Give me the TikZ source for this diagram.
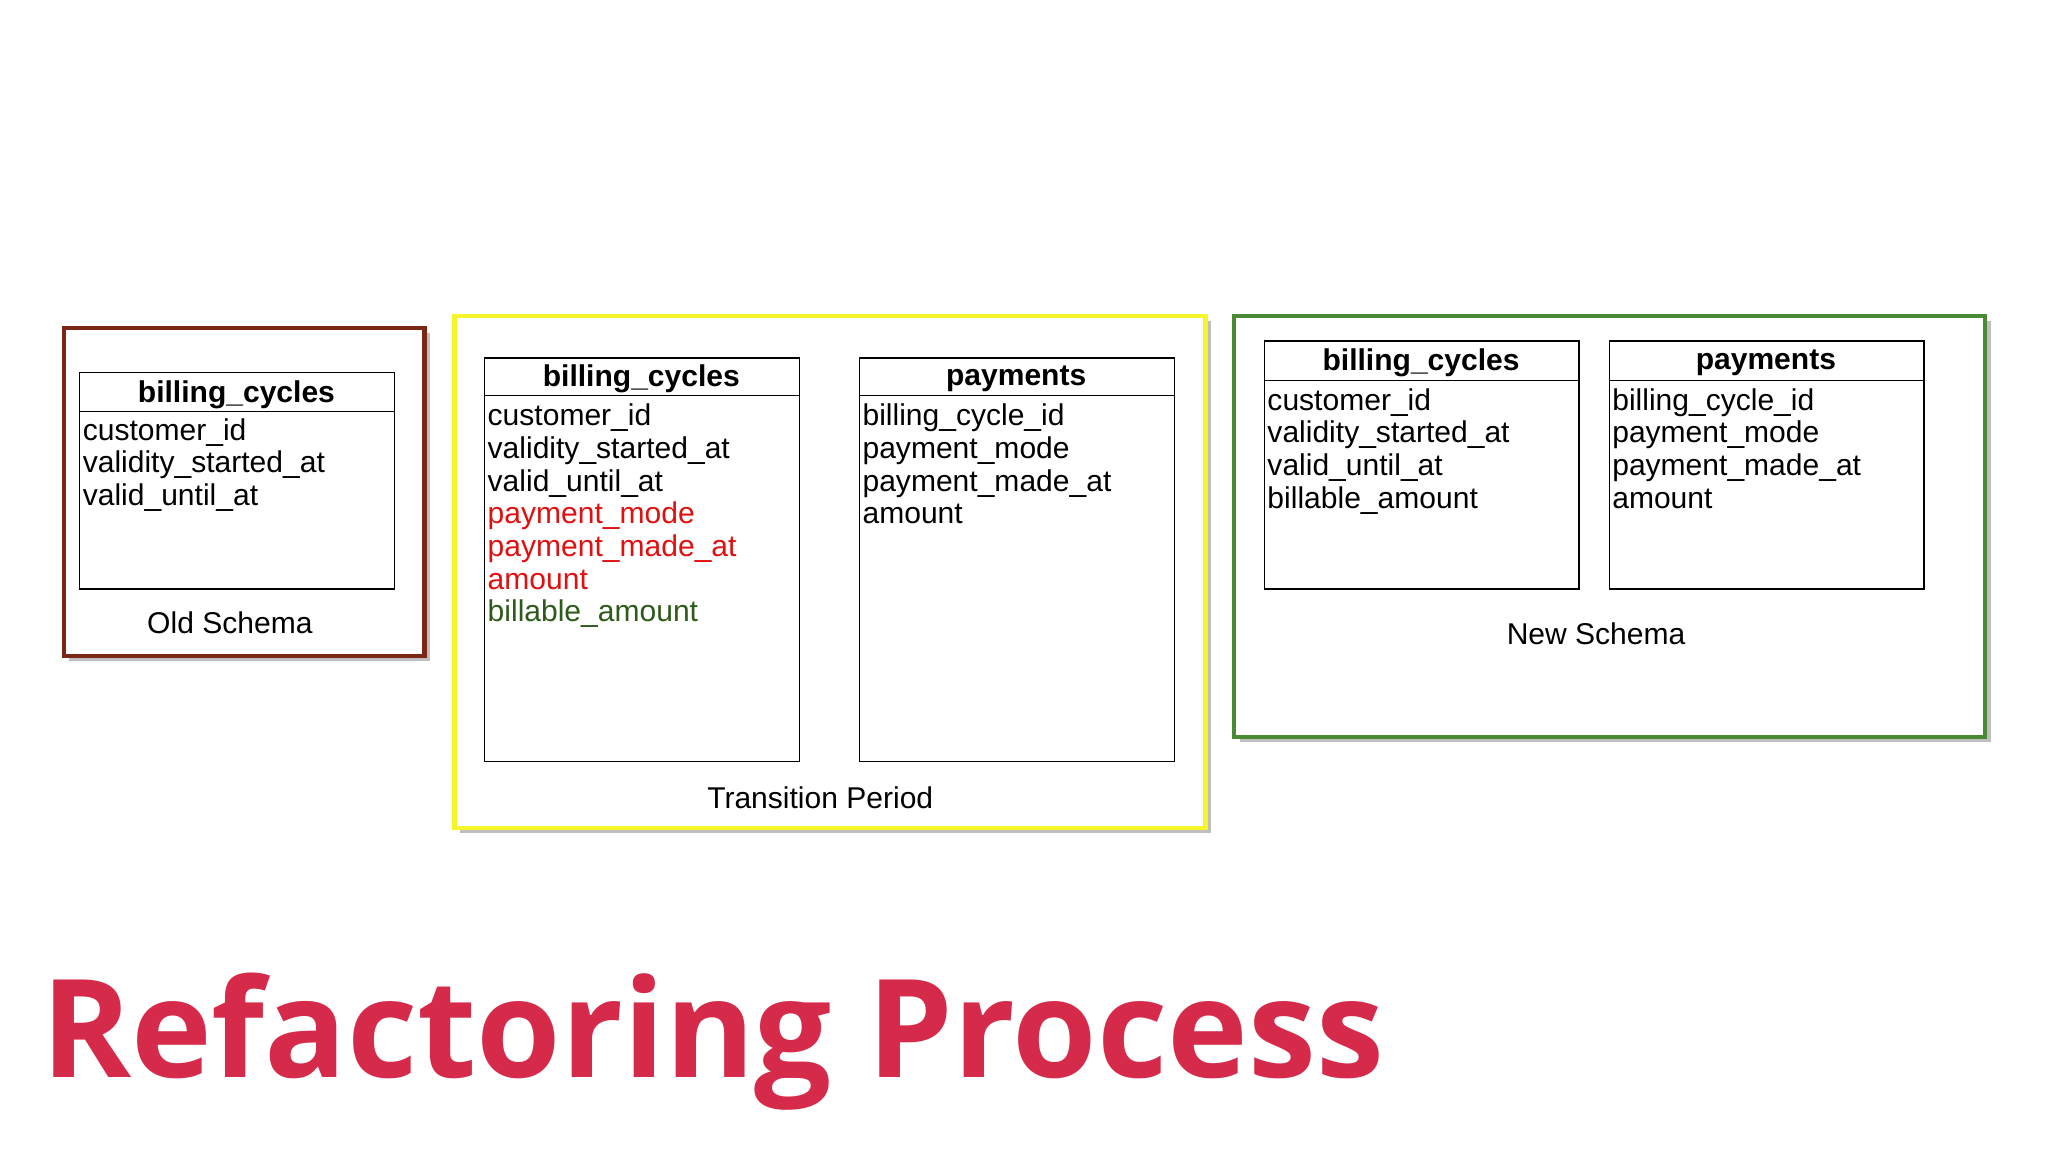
\documentclass[tikz,border=0pt]{standalone}
\usepackage{fontspec}
\setmainfont{Liberation Sans}
\newfontfamily\titlefont{Open Sans}
\begin{document}
\begin{tikzpicture}[x=0.5pt,y=-0.5pt,
  frame/.style={line width=1.6pt},
  tbl/.style={draw=black,line width=0.5pt,fill=white},
  hdr/.style={font=\fontsize{11.5}{12}\selectfont\bfseries,anchor=center},
  fld/.style={font=\fontsize{11.5}{12.5}\selectfont,anchor=north west,align=left,inner sep=0pt},
  lbl/.style={font=\fontsize{11.5}{12}\selectfont}]
\useasboundingbox (0,0) rectangle (1568,882);
\fill[white] (0,0) rectangle (1568,882);
\definecolor{oldc}{HTML}{7A2815}
\definecolor{ylw}{HTML}{F5F52A}
\definecolor{grn}{HTML}{4A8A34}
\definecolor{redf}{HTML}{E01010}
\definecolor{grnf}{HTML}{2E5A1A}
\definecolor{ttl}{HTML}{D62A4A}
% shadows
\fill[black!25] (53,255) rectangle (329,506);
\fill[black!25] (352,246) rectangle (927,638);
\fill[black!25] (949,246) rectangle (1524,568);
% frames
\draw[frame,draw=oldc,fill=white] (49,251) rectangle (325,502);
\draw[frame,draw=ylw,fill=white] (348,242) rectangle (923,634);
\draw[frame,draw=grn,fill=white] (945,242) rectangle (1520,564);
% Old schema
\draw[tbl] (61,285) rectangle (302,451); \draw (61,315) -- (302,315);
\node[hdr] (o1h) at (181,302) {billing\_cycles};
\node[fld] (o1f) at (63,320) {customer\_id\\validity\_started\_at\\valid\_until\_at};
\node[lbl] (olab) at (176,477) {Old Schema};
% Transition
\draw[tbl] (371,274) rectangle (612,583); \draw (371,303) -- (612,303);
\node[hdr] (t1h) at (491,290) {billing\_cycles};
\node[fld] (t1f) at (373,309) {customer\_id\\validity\_started\_at\\valid\_until\_at\\\textcolor{redf}{payment\_mode}\\\textcolor{redf}{payment\_made\_at}\\\textcolor{redf}{amount}\\\textcolor{grnf}{billable\_amount}};
\draw[tbl] (658,274) rectangle (899,583); \draw (658,303) -- (899,303);
\node[hdr] (t2h) at (778,290) {payments};
\node[fld] (t2f) at (660,309) {billing\_cycle\_id\\payment\_mode\\payment\_made\_at\\amount};
\node[lbl] (tlab) at (628,611) {Transition Period};
% New
\draw[tbl] (968,261) rectangle (1209,451); \draw (968,291) -- (1209,291);
\node[hdr] (n1h) at (1088,278) {billing\_cycles};
\node[fld] (n1f) at (970,297) {customer\_id\\validity\_started\_at\\valid\_until\_at\\billable\_amount};
\draw[tbl] (1232,261) rectangle (1473,451); \draw (1232,291) -- (1473,291);
\node[hdr] (n2h) at (1352,278) {payments};
\node[fld] (n2f) at (1234,297) {billing\_cycle\_id\\payment\_mode\\payment\_made\_at\\amount};
\node[lbl] (nlab) at (1222,485) {New Schema};
% title
\node[anchor=base west,inner sep=0pt,text=ttl,font=\titlefont\fontsize{52.3}{56}\selectfont\bfseries] (title) at (31,825) {Refactoring Process};
\end{tikzpicture}
\end{document}
